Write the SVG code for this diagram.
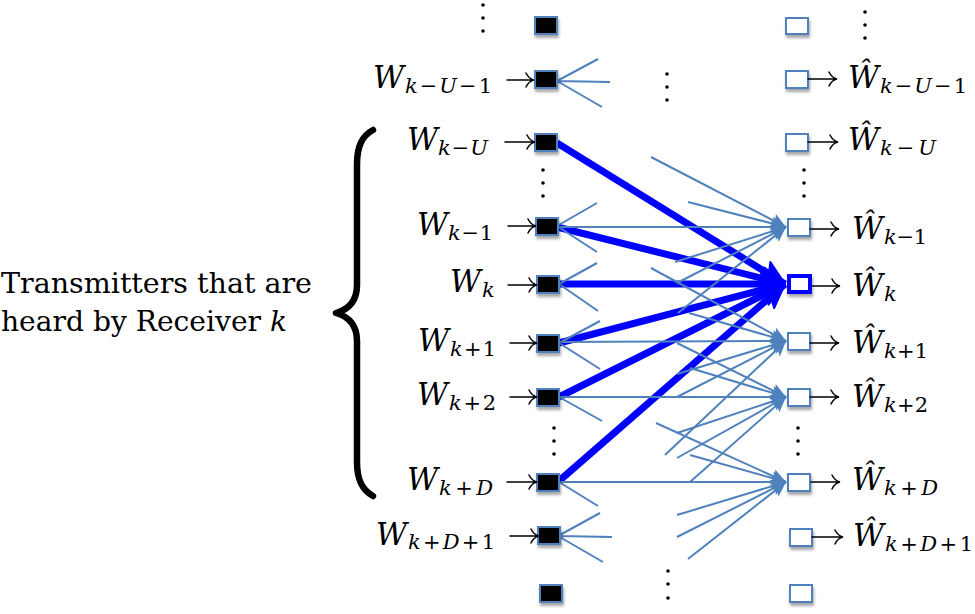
<svg xmlns="http://www.w3.org/2000/svg" width="975" height="614" viewBox="0 0 975 614">
<style>
.w{font-family:"DejaVu Serif","Liberation Serif","Times New Roman",serif;font-style:italic;font-size:31px;fill:#000}
.s{font-family:"DejaVu Serif","Liberation Serif","Times New Roman",serif;font-size:21px;fill:#000}
.i{font-style:italic}
.lab{font-family:"DejaVu Serif","Liberation Serif","Times New Roman",serif;font-size:28px;fill:#000}
.tx{fill:#000;stroke:#4f81bd;stroke-width:2;filter:url(#sh)}
.rx{fill:#fff;stroke:#4f81bd;stroke-width:2;filter:url(#sh)}
.rxk{fill:#fff;stroke:#0000ff;stroke-width:4;filter:url(#sh)}
.ar{fill:none;stroke:#000;stroke-width:1.5;stroke-linecap:round}
.thin{stroke:#4f81bd;stroke-width:2;fill:none}
.thina{stroke:#4f81bd;stroke-width:2;fill:none;marker-end:url(#mThin)}
.thick{stroke:#0000ff;stroke-width:7;fill:none;marker-end:url(#mThick)}
.dot{fill:#000}
</style>
<defs>
<filter id="sh" x="-30%" y="-30%" width="160%" height="180%">
<feDropShadow dx="1" dy="3" stdDeviation="1.5" flood-color="#000" flood-opacity="0.35"/>
</filter>
<marker id="mThin" markerUnits="userSpaceOnUse" markerWidth="16" markerHeight="14" refX="15" refY="7" orient="auto" overflow="visible">
<path d="M0,0 L15,7 L0,14 L3,7 Z" fill="#4f81bd"/>
</marker>
<marker id="mThick" markerUnits="userSpaceOnUse" markerWidth="26" markerHeight="24" refX="24" refY="11" orient="auto" overflow="visible">
<path d="M0,0 L24,11 L0,22 L5,11 Z" fill="#0000ff" stroke="#0000ff" stroke-width="2" stroke-linejoin="round"/>
</marker>
</defs>

<!-- brace and side label -->
<g id="brace">
<path d="M373,130 C362,136 357,146 357,165 L357,285 C357,300 350,309 336,313 C350,317 357,326 357,341 L357,462 C357,480 362,490 373,496" fill="none" stroke="#000" stroke-width="6.5" stroke-linecap="round" stroke-linejoin="round"/>
</g>
<g id="side-label">
<text class="lab" x="1" y="293" textLength="311" lengthAdjust="spacingAndGlyphs">Transmitters that are</text>
<text class="lab" x="1" y="331" textLength="286" lengthAdjust="spacingAndGlyphs">heard by Receiver <tspan class="i">k</tspan></text>
</g>

<!-- connectors -->
<g id="connectors">
<g id="thick-lines">
<path class="thick" d="M557,143 L785,284"/>
<path class="thick" d="M557,227 L785,284"/>
<path class="thick" d="M559,284 L785,284"/>
<path class="thick" d="M559,343 L785,284"/>
<path class="thick" d="M559,397 L785,284"/>
<path class="thick" d="M559,481 L785,284"/>
</g>
<g id="thin-lines">
<path class="thina" d="M651,157 L786,227"/>
<path class="thina" d="M688,202 L786,227"/>
<path class="thina" d="M557,227 L786,227"/>
<path class="thina" d="M675,262 L786,227"/>
<path class="thina" d="M677,283 L786,227"/>
<path class="thina" d="M678,313 L786,227"/>

<path class="thina" d="M651,268 L786,341"/>
<path class="thina" d="M689,313 L786,341"/>
<path class="thina" d="M559,342 L786,341"/>
<path class="thina" d="M677,374 L786,341"/>
<path class="thina" d="M677,397 L786,341"/>
<path class="thina" d="M665,455 L786,341"/>

<path class="thina" d="M677,343 L786,397"/>
<path class="thina" d="M690,368 L786,397"/>
<path class="thina" d="M559,397 L786,397"/>
<path class="thina" d="M677,433 L786,397"/>
<path class="thina" d="M677,458 L786,397"/>
<path class="thina" d="M690,482 L786,397"/>

<path class="thina" d="M656,423 L786,482"/>
<path class="thina" d="M690,455 L786,482"/>
<path class="thina" d="M559,482 L786,482"/>
<path class="thina" d="M677,515 L786,482"/>
<path class="thina" d="M677,537 L786,482"/>
<path class="thina" d="M688,559 L786,482"/>

<path class="thin" d="M557,81 L598,59 M557,81 L610,82 M557,81 L602,107"/>
<path class="thin" d="M557,226 L597,203 M557,226 L597,252"/>
<path class="thin" d="M559,284 L597,263 M559,284 L598,311"/>
<path class="thin" d="M559,343 L600,321 M559,343 L600,369"/>
<path class="thin" d="M559,397 L602,421"/>
<path class="thin" d="M559,482 L598,506"/>
<path class="thin" d="M558,536 L600,513 M558,536 L612,537 M558,536 L603,562"/>
</g>
</g>

<!-- dots -->
<g id="dots">
<circle class="dot" cx="483" cy="5" r="1.8"/><circle class="dot" cx="483" cy="18" r="1.8"/><circle class="dot" cx="483" cy="31" r="1.8"/>
<circle class="dot" cx="667" cy="74" r="1.8"/><circle class="dot" cx="667" cy="87" r="1.8"/><circle class="dot" cx="667" cy="100" r="1.8"/>
<circle class="dot" cx="865" cy="12" r="1.8"/><circle class="dot" cx="865" cy="25" r="1.8"/><circle class="dot" cx="865" cy="38" r="1.8"/>
<circle class="dot" cx="543" cy="170" r="1.8"/><circle class="dot" cx="543" cy="183" r="1.8"/><circle class="dot" cx="543" cy="196" r="1.8"/>
<circle class="dot" cx="804" cy="170" r="1.8"/><circle class="dot" cx="804" cy="183" r="1.8"/><circle class="dot" cx="804" cy="196" r="1.8"/>
<circle class="dot" cx="554" cy="428" r="1.8"/><circle class="dot" cx="554" cy="441" r="1.8"/><circle class="dot" cx="554" cy="454" r="1.8"/>
<circle class="dot" cx="798" cy="428" r="1.8"/><circle class="dot" cx="798" cy="441" r="1.8"/><circle class="dot" cx="798" cy="454" r="1.8"/>
<circle class="dot" cx="668" cy="571" r="1.8"/><circle class="dot" cx="668" cy="584" r="1.8"/><circle class="dot" cx="668" cy="598" r="1.8"/>
</g>

<!-- transmitters -->
<g id="tx-top"><rect class="tx" x="535" y="17" width="22" height="17"/></g>
<g id="tx-kmU1">
<rect class="tx" x="535" y="71" width="22" height="17"/>
<path class="ar" d="M507,80 H533 M526,73 Q529,79 534,80 Q529,81 526,87"/>
<text class="w" x="373" y="88" textLength="31" lengthAdjust="spacingAndGlyphs">W</text>
<text class="s" x="405" y="93" textLength="87" lengthAdjust="spacing"><tspan class="i">k</tspan>−<tspan class="i">U</tspan>−1</text>
</g>
<g id="tx-kmU">
<rect class="tx" x="535" y="134" width="22" height="17"/>
<path class="ar" d="M505,142 H534 M527,135 Q530,141 535,142 Q530,143 527,149"/>
<text class="w" x="407" y="150" textLength="31" lengthAdjust="spacingAndGlyphs">W</text>
<text class="s" x="438" y="155" textLength="50" lengthAdjust="spacing"><tspan class="i">k</tspan>−<tspan class="i">U</tspan></text>
</g>
<g id="tx-km1">
<rect class="tx" x="536" y="218" width="22" height="17"/>
<path class="ar" d="M508,226 H535 M528,219 Q531,225 536,226 Q531,227 528,233"/>
<text class="w" x="417" y="235" textLength="31" lengthAdjust="spacingAndGlyphs">W</text>
<text class="s" x="448" y="240" textLength="45" lengthAdjust="spacing"><tspan class="i">k</tspan>−1</text>
</g>
<g id="tx-k">
<rect class="tx" x="537" y="276" width="22" height="17"/>
<path class="ar" d="M508,285 H536 M529,278 Q532,284 537,285 Q532,286 529,292"/>
<text class="w" x="450" y="292" textLength="31" lengthAdjust="spacingAndGlyphs">W</text>
<text class="s i" x="482" y="297">k</text>
</g>
<g id="tx-kp1">
<rect class="tx" x="537" y="335" width="22" height="17"/>
<path class="ar" d="M510,343 H536 M529,336 Q532,342 537,343 Q532,344 529,350"/>
<text class="w" x="418" y="351" textLength="31" lengthAdjust="spacingAndGlyphs">W</text>
<text class="s" x="450" y="356" textLength="46" lengthAdjust="spacing"><tspan class="i">k</tspan>+1</text>
</g>
<g id="tx-kp2">
<rect class="tx" x="537" y="389" width="22" height="17"/>
<path class="ar" d="M510,397 H536 M529,390 Q532,396 537,397 Q532,398 529,404"/>
<text class="w" x="417" y="405" textLength="31" lengthAdjust="spacingAndGlyphs">W</text>
<text class="s" x="449" y="410" textLength="47" lengthAdjust="spacing"><tspan class="i">k</tspan>+2</text>
</g>
<g id="tx-kpD">
<rect class="tx" x="537" y="474" width="22" height="17"/>
<path class="ar" d="M507,482 H536 M529,475 Q532,481 537,482 Q532,483 529,489"/>
<text class="w" x="407" y="490" textLength="31" lengthAdjust="spacingAndGlyphs">W</text>
<text class="s" x="439" y="495" textLength="54" lengthAdjust="spacing"><tspan class="i">k</tspan>+<tspan class="i">D</tspan></text>
</g>
<g id="tx-kpD1">
<rect class="tx" x="538" y="527" width="22" height="17"/>
<path class="ar" d="M510,536 H538 M531,529 Q534,535 539,536 Q534,537 531,543"/>
<text class="w" x="376" y="545" textLength="31" lengthAdjust="spacingAndGlyphs">W</text>
<text class="s" x="408" y="549" textLength="87" lengthAdjust="spacing"><tspan class="i">k</tspan>+<tspan class="i">D</tspan>+1</text>
</g>
<g id="tx-bottom"><rect class="tx" x="540" y="585" width="22" height="17"/></g>

<!-- receivers -->
<g id="rx-top"><rect class="rx" x="786" y="18" width="22" height="16"/></g>
<g id="rx-kmU1">
<rect class="rx" x="786" y="71" width="22" height="17"/>
<path class="ar" d="M808,79 H836 M829,72 Q832,78 837,79 Q832,80 829,86"/>
<text class="w" x="848" y="88" textLength="31" lengthAdjust="spacingAndGlyphs">Ŵ</text>
<text class="s" x="880" y="93" textLength="87" lengthAdjust="spacing"><tspan class="i">k</tspan>−<tspan class="i">U</tspan>−1</text>
</g>
<g id="rx-kmU">
<rect class="rx" x="786" y="134" width="22" height="17"/>
<path class="ar" d="M808,142 H837 M830,135 Q833,141 838,142 Q833,143 830,149"/>
<text class="w" x="848" y="150" textLength="31" lengthAdjust="spacingAndGlyphs">Ŵ</text>
<text class="s" x="880" y="155" textLength="56" lengthAdjust="spacing"><tspan class="i">k</tspan>−<tspan class="i">U</tspan></text>
</g>
<g id="rx-km1">
<rect class="rx" x="788" y="219" width="22" height="17"/>
<path class="ar" d="M810,229 H838 M831,222 Q834,228 839,229 Q834,230 831,236"/>
<text class="w" x="852" y="239" textLength="31" lengthAdjust="spacingAndGlyphs">Ŵ</text>
<text class="s" x="884" y="244" textLength="43" lengthAdjust="spacing"><tspan class="i">k</tspan>−1</text>
</g>
<g id="rx-k">
<rect class="rxk" x="789" y="276" width="21" height="16"/>
<path class="ar" d="M812,286 H839 M832,279 Q835,285 840,286 Q835,287 832,293"/>
<text class="w" x="852" y="296" textLength="31" lengthAdjust="spacingAndGlyphs">Ŵ</text>
<text class="s i" x="884" y="301">k</text>
</g>
<g id="rx-kp1">
<rect class="rx" x="788" y="333" width="22" height="17"/>
<path class="ar" d="M810,343 H838 M831,336 Q834,342 839,343 Q834,344 831,350"/>
<text class="w" x="852" y="353" textLength="31" lengthAdjust="spacingAndGlyphs">Ŵ</text>
<text class="s" x="884" y="358" textLength="44" lengthAdjust="spacing"><tspan class="i">k</tspan>+1</text>
</g>
<g id="rx-kp2">
<rect class="rx" x="788" y="389" width="22" height="17"/>
<path class="ar" d="M810,397 H838 M831,390 Q834,396 839,397 Q834,398 831,404"/>
<text class="w" x="852" y="407" textLength="31" lengthAdjust="spacingAndGlyphs">Ŵ</text>
<text class="s" x="884" y="412" textLength="44" lengthAdjust="spacing"><tspan class="i">k</tspan>+2</text>
</g>
<g id="rx-kpD">
<rect class="rx" x="788" y="474" width="22" height="17"/>
<path class="ar" d="M811,482 H839 M832,475 Q835,481 840,482 Q835,483 832,489"/>
<text class="w" x="852" y="490" textLength="31" lengthAdjust="spacingAndGlyphs">Ŵ</text>
<text class="s" x="884" y="495" textLength="54" lengthAdjust="spacing"><tspan class="i">k</tspan>+<tspan class="i">D</tspan></text>
</g>
<g id="rx-kpD1">
<rect class="rx" x="790" y="529" width="22" height="17"/>
<path class="ar" d="M812,537 H842 M835,530 Q838,536 843,537 Q838,538 835,544"/>
<text class="w" x="853" y="546" textLength="31" lengthAdjust="spacingAndGlyphs">Ŵ</text>
<text class="s" x="885" y="551" textLength="88" lengthAdjust="spacing"><tspan class="i">k</tspan>+<tspan class="i">D</tspan>+1</text>
</g>
<g id="rx-bottom"><rect class="rx" x="790" y="585" width="22" height="17"/></g>
</svg>
